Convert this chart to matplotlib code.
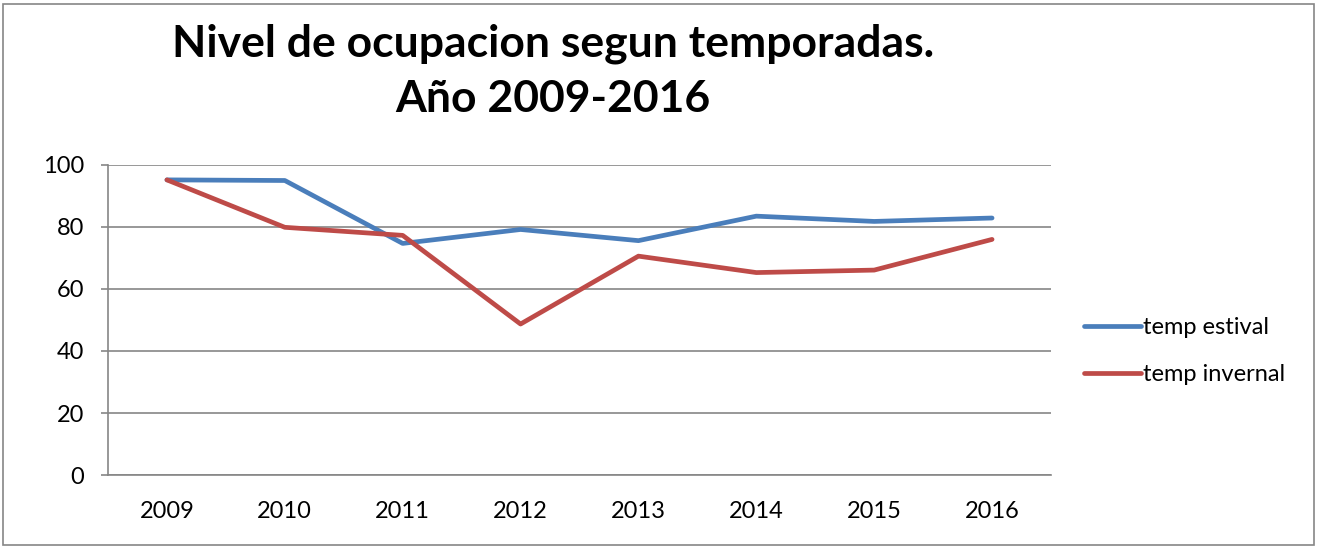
import matplotlib
matplotlib.use("Agg")
import matplotlib.pyplot as plt
from matplotlib.patches import Rectangle

# data
years = ["2009", "2010", "2011", "2012", "2013", "2014", "2015", "2016"]
temp_estival = [95.2, 95.0, 74.7, 79.2, 75.6, 83.5, 81.8, 82.9]
temp_invernal = [95.2, 79.9, 77.3, 48.7, 70.6, 65.3, 66.1, 76.0]
y_ticks = [0, 20, 40, 60, 80, 100]

title = "Nivel de ocupacion segun temporadas.\nAño 2009-2016"

plt.rcParams["font.family"] = ["Lato", "DejaVu Sans"]

W, H = 1317, 548
fig = plt.figure(figsize=(W / 100, H / 100), dpi=100)
ax = fig.add_axes([108 / W, 1 - 475 / H, (1051 - 108) / W, (475 - 165) / H])

x = list(range(len(years)))
ax.plot(x, temp_estival, color="#4A7EBB", lw=3.4, solid_capstyle="round",
        solid_joinstyle="round", label="temp estival")
ax.plot(x, temp_invernal, color="#BE4B48", lw=3.4, solid_capstyle="round",
        solid_joinstyle="round", label="temp invernal")

ax.set_xlim(-0.5, len(years) - 0.5)
ax.set_ylim(0, 100)
ax.set_xticks(x)
ax.set_xticklabels(years)
ax.set_yticks(y_ticks)

grid_col = "#868686"
ax.grid(axis="y", color=grid_col, lw=1.2)
ax.set_axisbelow(True)
for side in ("top", "right"):
    ax.spines[side].set_visible(False)
for side in ("left", "bottom"):
    ax.spines[side].set_color(grid_col)
    ax.spines[side].set_linewidth(1.2)
ax.tick_params(axis="x", length=0, pad=19, labelsize=17)
ax.tick_params(axis="y", length=5, width=1.2, color=grid_col, pad=12, labelsize=17)

leg = fig.legend(loc="upper left", bbox_to_anchor=(1075 / W, 1 - 308 / H),
                 frameon=False, fontsize=17, handlelength=2.4, handletextpad=0.1,
                 labelspacing=1.1, borderaxespad=0)

fig.text(553 / W, 1 - 24 / H, title, ha="center", va="top", fontsize=32,
         fontweight="bold", linespacing=1.45)

# outer chart border
fig.patches.append(Rectangle((3 / W, 3 / H), (W - 6) / W, (H - 7) / H,
                             transform=fig.transFigure, fill=False,
                             edgecolor="#868686", lw=1.2))

fig.savefig("out.png", dpi=100)
